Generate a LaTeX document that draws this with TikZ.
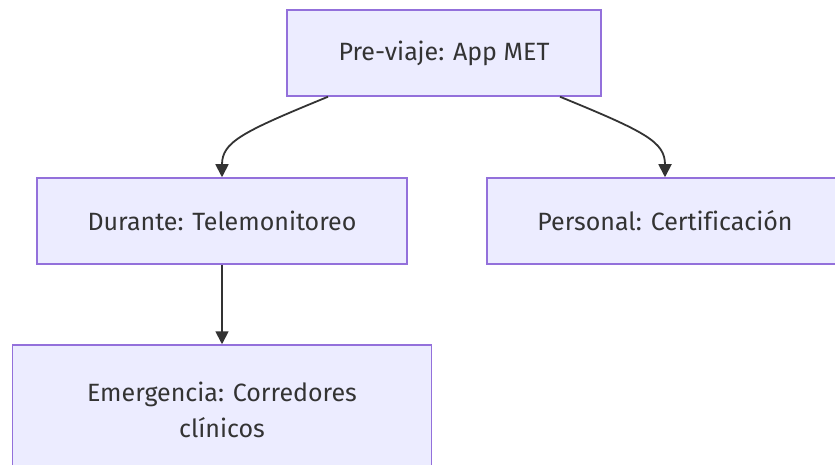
\documentclass[tikz,border=0pt]{standalone}
\usepackage{fontspec}
\setmainfont[Ligatures=NoCommon]{Fira Sans}
\usetikzlibrary{arrows.meta}
\definecolor{boxfill}{HTML}{ECECFF}
\definecolor{boxline}{HTML}{9370DB}
\definecolor{ink}{HTML}{333333}
\tikzset{
  flowbox/.style={draw=boxline, fill=boxfill, line width=1.5pt, text=ink,
    inner sep=0pt, align=center, font=\fontsize{25}{36}\selectfont},
  flowarrow/.style={draw=ink, line width=1.8pt,
    -{Triangle[length=13pt,width=13pt]}}
}
\begin{document}
\begin{tikzpicture}[x=1pt,y=-1pt]
\useasboundingbox (0,0) rectangle (835,465);
\clip (0,0) rectangle (835,465);
\fill[white] (0,0) rectangle (835,465);
\node[flowbox, minimum width=314pt, minimum height=86pt] (a) at (444,53) {Pre-viaje: App MET};
\node[flowbox, minimum width=370pt, minimum height=86pt] (b) at (222,221) {Durante: Telemonitoreo};
\node[flowbox, minimum width=356pt, minimum height=86pt] (c) at (665,221) {Personal: Certificación};
\node[flowbox, minimum width=419pt, minimum height=130pt] (d) at (222,410) {Emergencia: Corredores\\clínicos};
\draw[flowarrow] ([xshift=-116pt]a.south) .. controls (242,132) and (222,142) .. (b.north);
\draw[flowarrow] ([xshift=116pt]a.south) .. controls (646,132) and (665,142) .. (c.north);
\draw[flowarrow] (b.south) -- (d.north);
\end{tikzpicture}
\end{document}
